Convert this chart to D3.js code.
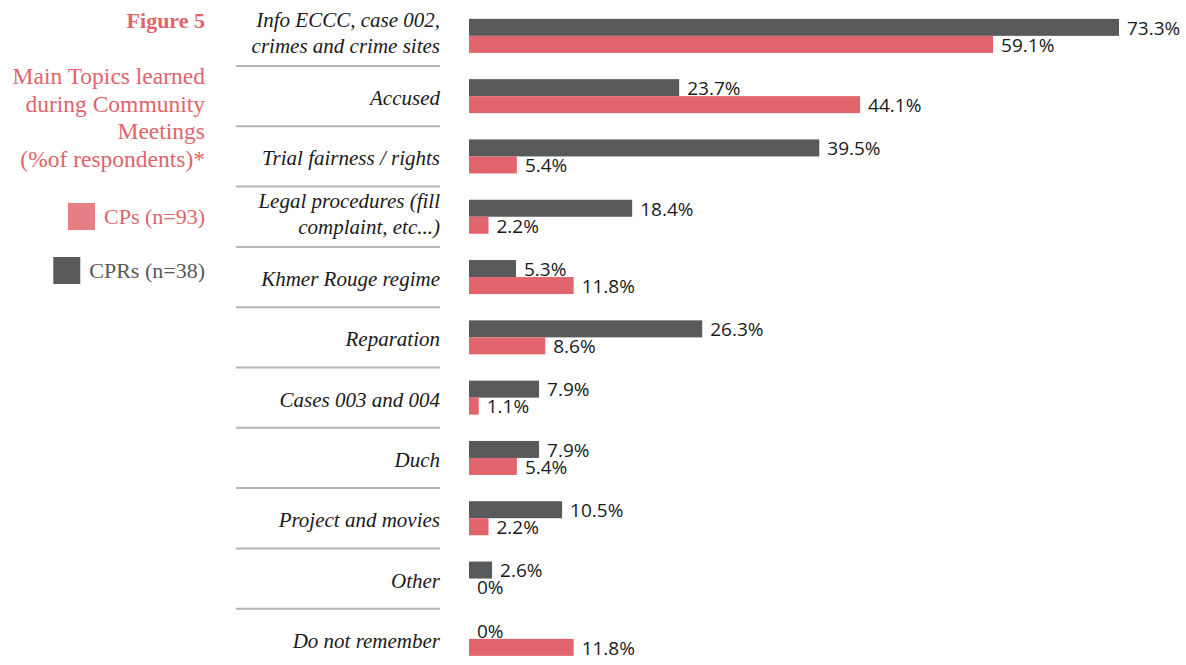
<!DOCTYPE html>
<html>
<head>
<meta charset="utf-8">
<script src="https://cdn.jsdelivr.net/npm/d3@7"></script>
<style>
  body { margin: 0; background: #fff; }
  svg { display: block; }
</style>
</head>
<body>
<div id="chart"></div>
<script>
const topics = [
  ["Info ECCC, case 002,", "crimes and crime sites"],
  ["Accused"],
  ["Trial fairness / rights"],
  ["Legal procedures (fill", "complaint, etc...)"],
  ["Khmer Rouge regime"],
  ["Reparation"],
  ["Cases 003 and 004"],
  ["Duch"],
  ["Project and movies"],
  ["Other"],
  ["Do not remember"]
];
const cprValues = [73.3, 23.7, 39.5, 18.4, 5.3, 26.3, 7.9, 7.9, 10.5, 2.6, 0];
const cpValues = [59.1, 44.1, 5.4, 2.2, 11.8, 8.6, 1.1, 5.4, 2.2, 0, 11.8];
const seriesNames = ["CPRs (n=38)", "CPs (n=93)"];
const titleLines = ["Main Topics learned", "during Community", "Meetings", "(%of respondents)*"];

const width = 1186, height = 665;
const pink = "#e2646f", gray = "#58595b", titleColor = "#e0646c";
const serif = "'Liberation Serif', 'DejaVu Serif', serif";
const sans = "'Open Sans', 'Noto Sans', sans-serif";

const svg = d3.select("#chart").append("svg")
  .attr("width", width).attr("height", height);

const x = d3.scaleLinear().domain([0, 73.3]).range([469, 1119]);
const y = d3.scaleBand().domain(d3.range(topics.length)).range([5.7, 669]).padding(0);
const sub = d3.scaleBand().domain([0, 1]).range([0, 34]);

// separators
svg.append("g").selectAll("line")
  .data(d3.range(topics.length - 1))
  .enter().append("line")
  .attr("x1", 236).attr("x2", 440)
  .attr("y1", i => y(i) + y.bandwidth())
  .attr("y2", i => y(i) + y.bandwidth())
  .attr("stroke", "#b5b5b5").attr("stroke-width", 2);

// category labels
const labels = svg.append("g").selectAll("text")
  .data(topics)
  .enter().append("text")
  .attr("text-anchor", "end")
  .attr("font-family", serif)
  .attr("font-style", "italic")
  .attr("font-size", 21)
  .attr("fill", "#1a1a1a");

labels.each(function(lines, i) {
  const c = y(i) + y.bandwidth() / 2;
  const t = d3.select(this);
  if (lines.length === 1) {
    t.append("tspan").attr("x", 440).attr("y", c + 9).text(lines[0]);
  } else {
    t.append("tspan").attr("x", 440).attr("y", c - 8.5).text(lines[0]);
    t.append("tspan").attr("x", 440).attr("y", c + 17.5).text(lines[1]);
  }
});

// bars first, then all value labels on top
const groups = [cprValues, cpValues];
const colors = [gray, pink];
const barTop = (i, s) => y(i) + y.bandwidth() / 2 - 17 + sub(s);

groups.forEach((vals, s) => {
  svg.append("g").selectAll("rect")
    .data(vals)
    .enter().append("rect")
    .attr("x", x(0))
    .attr("y", (d, i) => barTop(i, s))
    .attr("width", d => x(d) - x(0))
    .attr("height", 17)
    .attr("fill", colors[s]);
});

groups.forEach((vals, s) => {
  svg.append("g").selectAll("text")
    .data(vals)
    .enter().append("text")
    .attr("x", d => x(d) + 8)
    .attr("y", (d, i) => barTop(i, s) + 15.8)
    .attr("font-family", sans)
    .attr("font-size", 19)
    .attr("fill", "#1a1a1a")
    .text(d => d + "%");
});

// title block
const head = svg.append("g").attr("font-family", serif).attr("text-anchor", "end");
head.append("text")
  .attr("x", 205).attr("y", 28)
  .attr("font-size", 22).attr("font-weight", "bold")
  .attr("fill", titleColor).text("Figure 5");
titleLines.forEach((t, i) => {
  head.append("text")
    .attr("x", 205).attr("y", 84 + i * 27.5)
    .attr("font-size", 23.5).attr("fill", titleColor).text(t);
});

// legend
const legend = [
  { name: seriesNames[1], color: "#e57f83", text: titleColor, y: 203 },
  { name: seriesNames[0], color: gray, text: gray, y: 257 }
];
legend.forEach(l => {
  const tx = head.append("text")
    .attr("x", 205).attr("y", l.y + 21)
    .attr("font-size", 22).attr("fill", l.text).text(l.name);
  const w = tx.node().getComputedTextLength();
  svg.append("rect")
    .attr("x", 205 - w - 9 - 27).attr("y", l.y)
    .attr("width", 27).attr("height", 27)
    .attr("fill", l.color);
});
</script>
</body>
</html>
